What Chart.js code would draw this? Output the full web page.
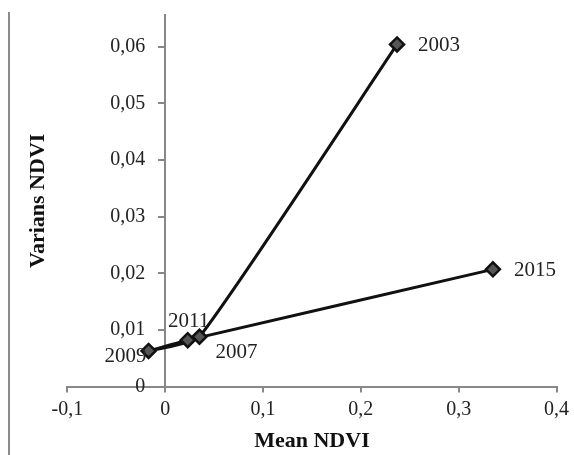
<!DOCTYPE html>
<html lang="id">
<head>
<meta charset="UTF-8">
<title>Mean vs Varians NDVI</title>
<script src="https://cdn.jsdelivr.net/npm/chart.js"></script>
<style>
    body { margin: 0; background: #fff; }
    .wrap { position: relative; width: 574px; height: 455px; }
    .frame { position: absolute; left: 8px; top: 12px; bottom: 0; border-left: 2px solid #8c8c8c; }
</style>
</head>
<body>
<div class="wrap">
    <div class="frame"></div>
    <canvas id="grafik" width="574" height="455"></canvas>
</div>
<script>
    // data
    var tahun = ["2003", "2007", "2009", "2011", "2015"];
    var meanNDVI = [0.237, 0.035, -0.017, 0.023, 0.335];
    var variansNDVI = [0.0604, 0.0088, 0.0063, 0.0082, 0.0207];
    var xTicks = [-0.1, 0, 0.1, 0.2, 0.3, 0.4];
    var yTicks = [0, 0.01, 0.02, 0.03, 0.04, 0.05, 0.06];

    // posisi label tahun relatif terhadap titik
    var posLabel = { "2003": "right", "2007": "belowright", "2009": "left", "2011": "aboveleft", "2015": "right" };

    var koma = function (v) { return String(v).replace('.', ','); };
    // sumbu y di x=0 tidak memakai padding label, jadi digeser dengan spasi
    var komaY = function (v) { return koma(v) + '\u2002\u2002'; };
    var huruf = "'Liberation Serif', 'Times New Roman', serif";

    var labelTahun = {
        id: 'labelTahun',
        afterDatasetsDraw: function (chart) {
            var ctx = chart.ctx;
            var meta = chart.getDatasetMeta(0);
            ctx.save();
            ctx.font = "21px " + huruf;
            ctx.fillStyle = "#222";
            ctx.textBaseline = "middle";
            meta.data.forEach(function (pt, i) {
                var t = tahun[i];
                var p = posLabel[t];
                if (p == "right") { ctx.textAlign = "left"; ctx.fillText(t, pt.x + 21, pt.y + 1); }
                if (p == "left") { ctx.textAlign = "right"; ctx.fillText(t, pt.x - 2, pt.y + 6); }
                if (p == "belowright") { ctx.textAlign = "left"; ctx.fillText(t, pt.x + 16, pt.y + 16); }
                if (p == "aboveleft") { ctx.textAlign = "center"; ctx.fillText(t, pt.x + 1, pt.y - 19); }
            });
            ctx.restore();
        }
    };

    var data = meanNDVI.map(function (m, i) { return { x: m, y: variansNDVI[i] }; });

    new Chart(document.getElementById("grafik"), {
        type: 'scatter',
        data: {
            datasets: [{
                label: 'NDVI',
                data: data,
                showLine: true,
                tension: 0.15,
                borderColor: '#111',
                borderWidth: 3,
                pointStyle: 'rectRot',
                pointRadius: 7,
                pointBackgroundColor: '#555',
                pointBorderColor: '#111',
                pointBorderWidth: 2.5
            }]
        },
        options: {
            responsive: false,
            animation: false,
            layout: { padding: { left: 25, right: 17, top: -6, bottom: 0 } },
            plugins: { legend: { display: false }, tooltip: { enabled: false } },
            scales: {
                x: {
                    type: 'linear',
                    position: 'bottom',
                    min: -0.1,
                    max: 0.4,
                    afterBuildTicks: function (s) { s.ticks = xTicks.map(function (v) { return { value: v }; }); },
                    grid: { drawOnChartArea: false, tickLength: 6, color: '#888', lineWidth: 2 },
                    border: { color: '#888', width: 2 },
                    ticks: { color: '#222', font: { family: huruf, size: 20 }, padding: 5, callback: koma },
                    title: { display: true, text: 'Mean NDVI', color: '#111', font: { family: huruf, size: 22, weight: 'bold' }, padding: { top: 2, bottom: 0 } }
                },
                y: {
                    type: 'linear',
                    position: { x: 0 },
                    min: 0,
                    max: 0.0656,
                    afterBuildTicks: function (s) { s.ticks = yTicks.map(function (v) { return { value: v }; }); },
                    grid: { drawOnChartArea: false, tickLength: 6, color: '#888', lineWidth: 2 },
                    border: { color: '#888', width: 2 },
                    ticks: { color: '#222', font: { family: huruf, size: 20 }, callback: komaY }
                },
                judulY: {
                    type: 'linear',
                    position: 'left',
                    axis: 'y',
                    min: 0,
                    max: 1,
                    ticks: { display: false },
                    grid: { display: false },
                    border: { display: false },
                    title: { display: true, text: 'Varians NDVI', color: '#111', font: { family: huruf, size: 22, weight: 'bold' }, padding: { top: 0, bottom: 8 } }
                }
            }
        },
        plugins: [labelTahun]
    });
</script>
</body>
</html>
